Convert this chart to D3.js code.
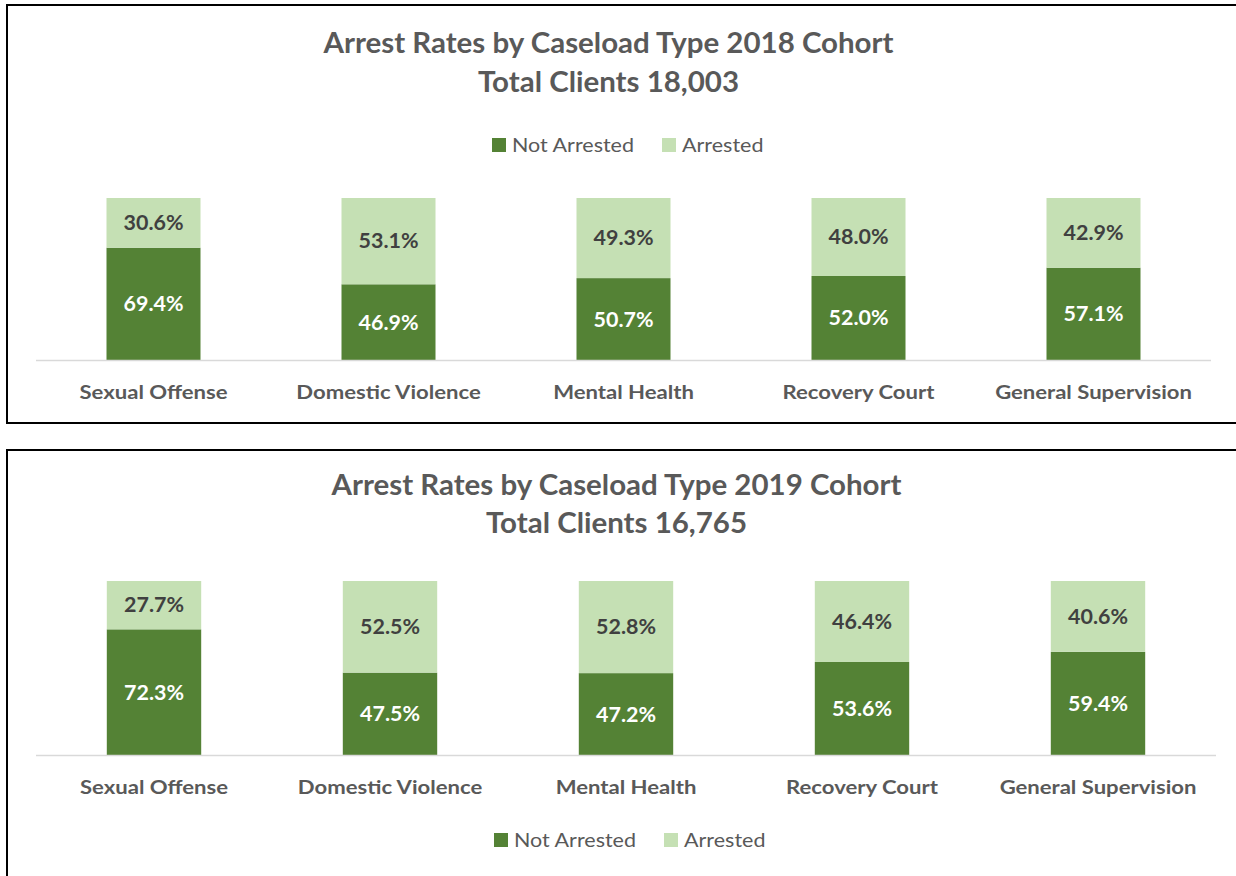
<!DOCTYPE html>
<html>
<head>
<meta charset="utf-8">
<script src="https://cdn.jsdelivr.net/npm/d3@7"></script>
<style>
  html, body { margin: 0; padding: 0; background: #ffffff; }
  svg { display: block; }
  text { font-family: Lato, "Open Sans", "DejaVu Sans", sans-serif; }
</style>
</head>
<body>
<svg id="chart" width="1236" height="876"></svg>
<script>
// Caseload categories shared by both cohorts
const categories = ["Sexual Offense", "Domestic Violence", "Mental Health", "Recovery Court", "General Supervision"];

// 2018 cohort (percent of clients)
const notArrested2018 = [69.4, 46.9, 50.7, 52.0, 57.1];
const arrested2018    = [30.6, 53.1, 49.3, 48.0, 42.9];

// 2019 cohort (percent of clients)
const notArrested2019 = [72.3, 47.5, 47.2, 53.6, 59.4];
const arrested2019    = [27.7, 52.5, 52.8, 46.4, 40.6];

const seriesNames = ["Not Arrested", "Arrested"];
const titles2018 = ["Arrest Rates by Caseload Type 2018 Cohort", "Total Clients 18,003"];
const titles2019 = ["Arrest Rates by Caseload Type 2019 Cohort", "Total Clients 16,765"];

const COLORS = { notArrested: "#548235", arrested: "#C5E0B4", text: "#595959", darkLabel: "#404040", axis: "#D9D9D9" };

const svg = d3.select("#chart");

// Width calibration so the humanist font sets at the intended measure
function measure(str, size, weight) {
  const t = svg.append("text").attr("font-size", size).attr("font-weight", weight).text(str);
  const w = t.node().getComputedTextLength();
  t.remove();
  return w;
}
const STYLES = {
  title:  { size: 28.5, weight: 700, ref: "Arrest Rates by Caseload Type 2018 Cohort", width: 570 },
  cat:    { size: 19.5, weight: 700, ref: "Sexual Offense", width: 148 },
  value:  { size: 20,   weight: 700, ref: "30.6%", width: 60 },
  legend: { size: 18.5, weight: 400, ref: "Not Arrested", width: 122 }
};
Object.values(STYLES).forEach(s => { s.k = s.width / measure(s.ref, s.size, s.weight); });

function styledText(sel, style) {
  const s = STYLES[style];
  sel.attr("font-size", s.size).attr("font-weight", s.weight);
  sel.each(function () {
    const w = this.getComputedTextLength();
    d3.select(this).attr("textLength", w * s.k).attr("lengthAdjust", "spacingAndGlyphs");
  });
  return sel;
}

function drawPanel(cfg) {
  const g = svg.append("g");

  // panel frame
  g.append("rect")
    .attr("x", cfg.frame.x).attr("y", cfg.frame.y)
    .attr("width", cfg.frame.w).attr("height", cfg.frame.h)
    .attr("fill", "none").attr("stroke", "#000").attr("stroke-width", 2);

  // title
  cfg.titles.forEach((t, i) => {
    g.append("text")
      .attr("x", cfg.titleX).attr("y", cfg.titleY[i])
      .attr("text-anchor", "middle").attr("fill", COLORS.text)
      .text(t)
      .call(styledText, "title");
  });

  const rows = categories.map((c, i) => ({ category: c, notArrested: cfg.notArrested[i], arrested: cfg.arrested[i] }));
  const keys = ["notArrested", "arrested"];
  const stacked = d3.stack().keys(keys)(rows);

  const x = d3.scaleBand().domain(categories).range([cfg.x0, cfg.x1]).paddingInner(0.6).paddingOuter(0.3);
  const y = d3.scaleLinear().domain([0, 100]).range([cfg.yBase, cfg.yTop]);

  // stacked bars
  const layers = g.selectAll("g.layer").data(stacked).join("g")
    .attr("class", "layer")
    .attr("fill", d => COLORS[d.key]);
  layers.selectAll("rect").data(d => d).join("rect")
    .attr("x", d => x(d.data.category))
    .attr("width", x.bandwidth())
    .attr("y", d => y(d[1]))
    .attr("height", d => y(d[0]) - y(d[1]));

  // value labels centred in each segment
  stacked.forEach(layer => {
    g.selectAll(null).data(layer).join("text")
      .attr("x", d => x(d.data.category) + x.bandwidth() / 2)
      .attr("y", d => (y(d[0]) + y(d[1])) / 2)
      .attr("dy", "0.36em")
      .attr("text-anchor", "middle")
      .attr("fill", layer.key === "notArrested" ? "#ffffff" : COLORS.darkLabel)
      .text(d => d3.format(".1f")(d.data[layer.key]) + "%")
      .call(styledText, "value");
  });

  // category axis
  const axis = g.append("g").attr("transform", `translate(0,${cfg.yBase})`)
    .call(d3.axisBottom(x).tickSize(0).tickPadding(0));
  axis.select(".domain").attr("stroke", COLORS.axis).attr("stroke-width", 1.5)
    .attr("d", `M${cfg.x0},0H${cfg.x1}`);
  axis.selectAll(".tick text")
    .attr("y", cfg.catY - cfg.yBase).attr("dy", 0)
    .attr("fill", COLORS.text).attr("font-family", null)
    .call(styledText, "cat");

  // legend
  const lg = g.append("g");
  let lx = cfg.legendX;
  seriesNames.forEach((name, i) => {
    lg.append("rect")
      .attr("x", lx).attr("y", cfg.legendY - 14)
      .attr("width", 14).attr("height", 14)
      .attr("fill", i === 0 ? COLORS.notArrested : COLORS.arrested);
    const t = lg.append("text")
      .attr("x", lx + 20).attr("y", cfg.legendY)
      .attr("fill", COLORS.text)
      .text(name)
      .call(styledText, "legend");
    lx = lx + 20 + (+t.attr("textLength")) + 28;
  });
}

drawPanel({
  frame: { x: 7, y: 5, w: 1240, h: 418 },
  titles: titles2018, titleX: 608.5, titleY: [53, 92],
  notArrested: notArrested2018, arrested: arrested2018,
  x0: 36, x1: 1211, yBase: 360.5, yTop: 198,
  catY: 399,
  legendX: 492, legendY: 152
});

drawPanel({
  frame: { x: 7, y: 450, w: 1240, h: 440 },
  titles: titles2019, titleX: 616.5, titleY: [495, 533],
  notArrested: notArrested2019, arrested: arrested2019,
  x0: 36, x1: 1216, yBase: 755.5, yTop: 581,
  catY: 794,
  legendX: 494, legendY: 847
});
</script>
</body>
</html>
